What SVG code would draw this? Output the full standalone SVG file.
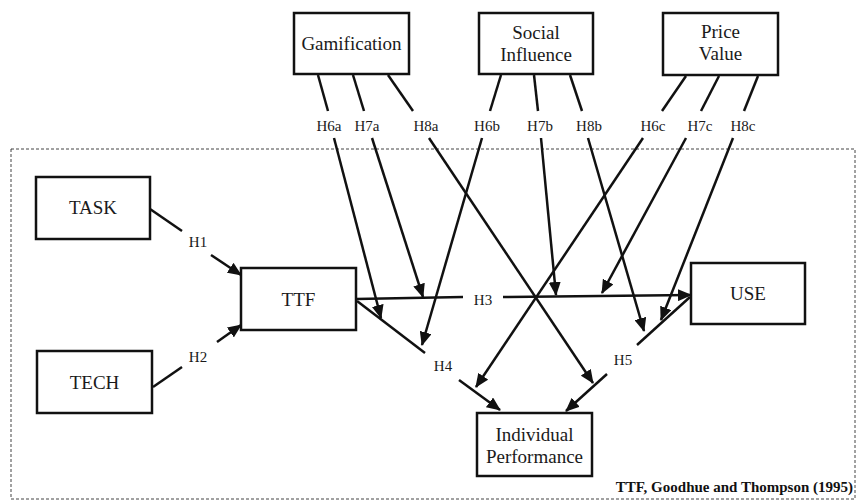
<svg xmlns="http://www.w3.org/2000/svg" width="856" height="501" viewBox="0 0 856 501">
<style>
.box{fill:#fff;stroke:#111;stroke-width:2.5}
.bt{font-family:'Liberation Serif','Times New Roman',Tinos,'DejaVu Serif',serif;font-size:19px;fill:#1a1a1a;text-anchor:middle}
.lb{font-family:'Liberation Serif','Times New Roman',Tinos,'DejaVu Serif',serif;font-size:15px;fill:#1a1a1a;text-anchor:middle}
.ln{stroke:#111;stroke-width:2.5;fill:none}
.ar{marker-end:url(#ah)}
</style>
<defs>
<marker id="ah" markerUnits="userSpaceOnUse" markerWidth="14" markerHeight="12" refX="13" refY="6" orient="auto">
<path d="M0,0 L14,6 L0,12 z" fill="#111"/>
</marker>
</defs>
<rect x="11" y="149" width="844" height="350" fill="none" stroke="#444" stroke-width="1" stroke-dasharray="3,2"/>

<g id="gamification"><rect class="box" x="294" y="13" width="115" height="61"/><text class="bt" x="351.5" y="50">Gamification</text></g>
<g id="social-influence"><rect class="box" x="479" y="13" width="114" height="61"/><text class="bt" x="536" y="39">Social</text><text class="bt" x="536" y="61">Influence</text></g>
<g id="price-value"><rect class="box" x="663" y="13" width="115" height="62"/><text class="bt" x="720.5" y="38">Price</text><text class="bt" x="720.5" y="60">Value</text></g>
<g id="task"><rect class="box" x="36" y="177" width="114" height="62"/><text class="bt" x="93" y="214">TASK</text></g>
<g id="tech"><rect class="box" x="37" y="351" width="115" height="62"/><text class="bt" x="94.5" y="389">TECH</text></g>
<g id="ttf"><rect class="box" x="241" y="268" width="115" height="62"/><text class="bt" x="298.5" y="306">TTF</text></g>
<g id="use"><rect class="box" x="691" y="263" width="114" height="61"/><text class="bt" x="748" y="300">USE</text></g>
<g id="individual-performance"><rect class="box" x="477" y="413" width="115" height="63"/><text class="bt" x="534.5" y="441">Individual</text><text class="bt" x="534.5" y="463">Performance</text></g>

<g id="connectors">
<line class="ln" x1="150" y1="209" x2="182" y2="231"/><line class="ln ar" x1="211" y1="255" x2="241" y2="275"/>
<line class="ln" x1="153" y1="387" x2="182" y2="367"/><line class="ln ar" x1="217" y1="342" x2="241" y2="325"/>
<line class="ln" x1="356" y1="299" x2="463" y2="297"/><line class="ln ar" x1="503" y1="297" x2="691" y2="295"/>
<line class="ln" x1="357" y1="301" x2="425" y2="353"/><line class="ln ar" x1="459" y1="380" x2="500" y2="410"/>
<line class="ln" x1="690" y1="297" x2="637" y2="345"/><line class="ln ar" x1="607" y1="374" x2="566" y2="411"/>
<line class="ln" x1="318" y1="75" x2="328" y2="111"/><line class="ln ar" x1="334" y1="138" x2="381" y2="318"/>
<line class="ln" x1="353" y1="75" x2="364" y2="111"/><line class="ln ar" x1="372" y1="138" x2="423" y2="297"/>
<line class="ln" x1="388" y1="75" x2="413" y2="111"/><line class="ln ar" x1="429" y1="138" x2="593" y2="383"/>
<line class="ln" x1="501" y1="75" x2="490" y2="111"/><line class="ln ar" x1="482" y1="138" x2="422" y2="345"/>
<line class="ln" x1="534" y1="75" x2="538" y2="111"/><line class="ln ar" x1="541" y1="138" x2="556" y2="295"/>
<line class="ln" x1="570" y1="75" x2="582" y2="111"/><line class="ln ar" x1="588" y1="138" x2="644" y2="331"/>
<line class="ln" x1="686" y1="76" x2="662" y2="111"/><line class="ln ar" x1="643" y1="138" x2="476" y2="387"/>
<line class="ln" x1="719" y1="76" x2="701" y2="111"/><line class="ln ar" x1="686" y1="138" x2="602" y2="293"/>
<line class="ln" x1="758" y1="76" x2="744" y2="111"/><line class="ln ar" x1="733" y1="138" x2="661" y2="320"/>
</g>

<g id="labels">
<text class="lb" x="198" y="247">H1</text>
<text class="lb" x="198" y="362">H2</text>
<text class="lb" x="483" y="305">H3</text>
<text class="lb" x="443" y="371">H4</text>
<text class="lb" x="623" y="365">H5</text>
<text class="lb" x="329" y="131">H6a</text>
<text class="lb" x="367" y="131">H7a</text>
<text class="lb" x="426" y="131">H8a</text>
<text class="lb" x="487" y="131">H6b</text>
<text class="lb" x="540" y="131">H7b</text>
<text class="lb" x="589" y="131">H8b</text>
<text class="lb" x="653" y="131">H6c</text>
<text class="lb" x="700" y="131">H7c</text>
<text class="lb" x="743" y="131">H8c</text>
</g>
<text x="853" y="492" font-family="'Liberation Serif','Times New Roman',Tinos,'DejaVu Serif',serif" font-size="15" font-weight="bold" fill="#111" text-anchor="end">TTF, Goodhue and Thompson (1995)</text>
</svg>
